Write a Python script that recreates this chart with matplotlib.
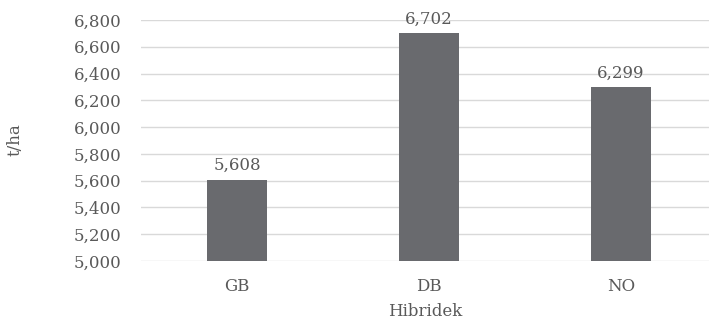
import matplotlib
matplotlib.use("Agg")
import matplotlib.pyplot as plt
from matplotlib.ticker import FuncFormatter, MultipleLocator

categories = ["GB", "DB", "NO"]
values = [5608, 6702, 6299]

plt.rcParams['font.family'] = ['DejaVu Serif']
text_color = "#595959"
bar_color = "#696A6E"
grid_color = "#D9D9D9"

fig = plt.figure(figsize=(7.09, 3.2), dpi=100)
ax = fig.add_axes([141/709, 1 - 261/320, 1 - 141/709, (261 - 20)/320])

x = range(len(categories))
bars = ax.bar(x, values, width=0.31, color=bar_color, zorder=3)
ax.set_ylim(5000, 6800)
ax.set_xlim(-0.5, 2.5 - 8/192)
ax.yaxis.set_major_locator(MultipleLocator(200))
ax.yaxis.set_major_formatter(FuncFormatter(lambda v, p: f"{int(v):,}"))
ax.grid(axis='y', color=grid_color, linewidth=1, zorder=0)
for s in ax.spines.values():
    s.set_visible(False)
ax.tick_params(axis='both', length=0, labelsize=12, colors=text_color)
ax.tick_params(axis='y', pad=14)
ax.tick_params(axis='x', pad=12)
ax.set_xticks(list(x))
ax.set_xticklabels(categories)

for xi, v in zip(x, values):
    ax.annotate(f"{v:,}", (xi, v), xytext=(0, 4), textcoords='offset points',
                ha='center', va='bottom', fontsize=12, color=text_color)

ax.set_xlabel("Hibridek", fontsize=12, color=text_color, labelpad=6)
fig.text(15/709, 1 - 140/320, "t/ha", rotation=90, ha='center', va='center',
         fontsize=12, color=text_color)

fig.savefig("out.png", dpi=100)
